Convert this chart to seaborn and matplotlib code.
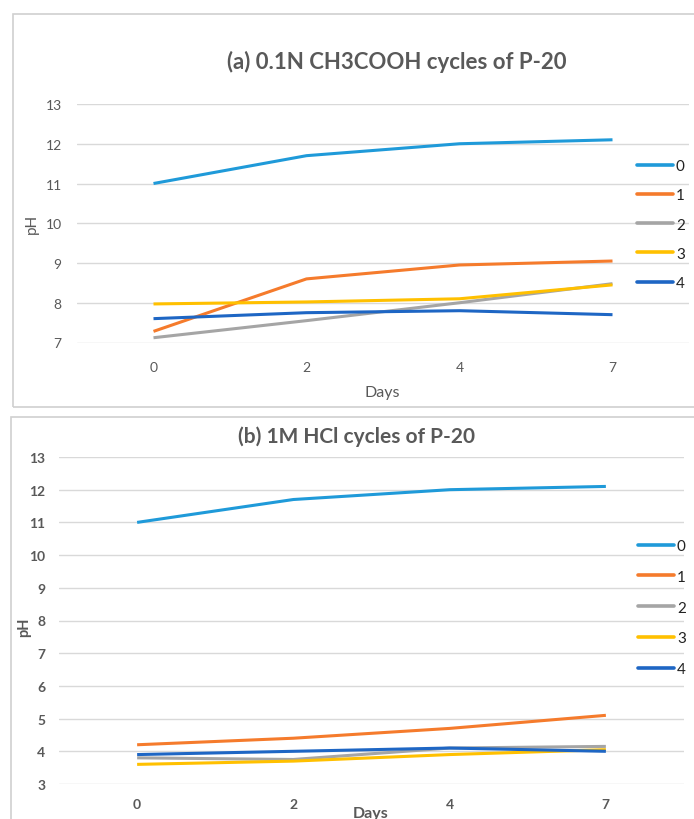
import pandas as pd
import matplotlib.pyplot as plt
import seaborn as sn
from matplotlib.patches import Rectangle

days = ["0", "2", "4", "7"]
cycles = ["0", "1", "2", "3", "4"]

# (a) 0.1N CH3COOH
ph_a_0 = [11.0, 11.7, 12.0, 12.1]
ph_a_1 = [7.28, 8.6, 8.95, 9.05]
ph_a_2 = [7.12, 7.55, 8.0, 8.48]
ph_a_3 = [7.97, 8.02, 8.1, 8.45]
ph_a_4 = [7.6, 7.75, 7.8, 7.7]

# (b) 1M HCl
ph_b_0 = [11.0, 11.7, 12.0, 12.1]
ph_b_1 = [4.2, 4.4, 4.7, 5.1]
ph_b_2 = [3.8, 3.75, 4.1, 4.15]
ph_b_3 = [3.6, 3.7, 3.9, 4.05]
ph_b_4 = [3.9, 4.0, 4.1, 4.0]

colors = ["#1F9AD9", "#F57B2C", "#A5A5A5", "#FFC000", "#1E66C4"]
palette = dict(zip(cycles, colors))


def long_df(series):
    rows = []
    for c, vals in zip(cycles, series):
        for d, v in zip(days, vals):
            rows.append({"Days": d, "pH": v, "cycle": c})
    return pd.DataFrame(rows)


df_a = long_df([ph_a_0, ph_a_1, ph_a_2, ph_a_3, ph_a_4])
df_b = long_df([ph_b_0, ph_b_1, ph_b_2, ph_b_3, ph_b_4])

sn.set_style("white")
plt.rcParams["font.family"] = ["Lato", "DejaVu Sans"]
grey = "#595959"

W, H = 694, 820
fig = plt.figure(figsize=(W / 100, H / 100), dpi=100)


def fx(px):
    return px / W


def fy(py):
    return 1 - py / H


# panel frames
fig.patches.append(Rectangle((fx(13), fy(408)), fx(700), 393 / H, transform=fig.transFigure,
                             fill=False, edgecolor="#D0D0D0", lw=1.2))
fig.patches.append(Rectangle((fx(11), fy(830)), fx(700), 412 / H, transform=fig.transFigure,
                             fill=False, edgecolor="#D0D0D0", lw=1.2))

ax1 = fig.add_axes([fx(77), fy(343.5), (689 - 77) / W, (343.5 - 105) / H])
ax2 = fig.add_axes([fx(59), fy(785), (684 - 59) / W, (785 - 458) / H])


def draw(ax, df, ylo, yhi, bold, pad_y, pad_x):
    sn.lineplot(data=df, x="Days", y="pH", hue="cycle", palette=palette,
                linewidth=2.2, ax=ax, sort=False)
    ax.set_xlim(-0.5, 3.5)
    ax.set_ylim(ylo, yhi)
    ax.set_yticks(range(ylo, yhi + 1))
    ax.grid(True, axis="y", color="#D9D9D9", lw=1)
    ax.grid(False, axis="x")
    ax.set_axisbelow(True)
    for s in ax.spines.values():
        s.set_visible(False)
    ax.tick_params(axis="both", length=0, colors=grey, labelsize=10)
    ax.tick_params(axis="y", pad=pad_y)
    ax.tick_params(axis="x", pad=pad_x)
    for t in ax.get_xticklabels() + ax.get_yticklabels():
        t.set_fontweight("bold" if bold else "normal")
    ax.set_xlabel("")
    ax.set_ylabel("")
    for ln in ax.lines:
        ln.set_clip_on(False)
        ln.set_solid_capstyle("butt")
    ax.get_legend().remove()


draw(ax1, df_a, 7, 13, False, 11, 13)
draw(ax2, df_b, 3, 13, True, 10, 10)


def legend(ax, x_left, y_top, spacing):
    handles = [plt.Line2D([], [], color=c, lw=2.6) for c in colors]
    lg = ax.legend(handles, cycles, loc="upper left", frameon=False,
                   bbox_to_anchor=(fx(x_left), fy(y_top)), bbox_transform=fig.transFigure,
                   borderpad=0, borderaxespad=0, handlelength=2.35, handletextpad=0.2,
                   labelspacing=spacing, prop={"size": 11})
    for t in lg.get_texts():
        t.set_color("#222222")


legend(ax1, 637, 160, 1.0)
legend(ax2, 638, 540, 1.1)

fig.text(fx(397), fy(62), "(a) 0.1N CH3COOH cycles of P-20", ha="center", va="center",
         fontsize=16, fontweight="bold", color=grey)
fig.text(fx(357), fy(437), "(b) 1M HCl cycles of P-20", ha="center", va="center",
         fontsize=15, fontweight="bold", color=grey)

fig.text(fx(32), fy(224), "pH", rotation=90, ha="center", va="center", fontsize=11, color=grey)
fig.text(fx(24), fy(627), "pH", rotation=90, ha="center", va="center", fontsize=10.5,
         fontweight="bold", color=grey)
fig.text(fx(382), fy(393), "Days", ha="center", va="center", fontsize=11.5, color=grey)
fig.text(fx(371), fy(814), "Days", ha="center", va="center", fontsize=11.5,
         fontweight="bold", color=grey)

fig.savefig("out.png", dpi=100)
